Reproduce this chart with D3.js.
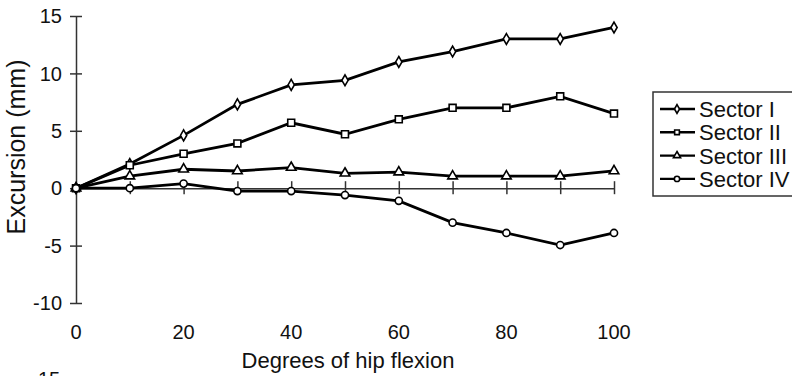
<!DOCTYPE html>
<meta charset="utf-8">
<title>Excursion vs hip flexion</title>
<style>
  body { margin: 0; background: #fff; }
  text { font-family: "Liberation Sans", Arial, sans-serif; fill: #111; }
  .series path.line { fill: none; stroke: #000; stroke-width: 2.8px; }
  .mark { fill: #fff; stroke: #000; stroke-width: 1.6px; }
  .axis path, .axis line { stroke: #333; stroke-width: 1.5px; }
</style>
<body>
<script src="https://cdn.jsdelivr.net/npm/d3@7"></script>
<script>

var degrees = [0, 10, 20, 30, 40, 50, 60, 70, 80, 90, 100];
var sectorI   = [0, 2.1, 4.6, 7.3, 9.0, 9.4, 11.0, 11.9, 13.0, 13.0, 14.0];
var sectorII  = [0, 2.0, 3.0, 3.9, 5.7, 4.7, 6.0, 7.0, 7.0, 8.0, 6.5];
var sectorIII = [0, 1.05, 1.65, 1.5, 1.8, 1.3, 1.4, 1.05, 1.05, 1.05, 1.5];
var sectorIV  = [0, 0, 0.4, -0.25, -0.25, -0.6, -1.1, -3.0, -3.9, -4.95, -3.9];
var seriesNames = ['Sector I', 'Sector II', 'Sector III', 'Sector IV'];
var xTicks = [0, 20, 40, 60, 80, 100];
var yTicks = [-10, -5, 0, 5, 10, 15];

var series = [
  {name: seriesNames[0], values: sectorI,   sym: d3.symbolDiamond,  size: 34},
  {name: seriesNames[1], values: sectorII,  sym: d3.symbolSquare,   size: 48},
  {name: seriesNames[2], values: sectorIII, sym: d3.symbolTriangle, size: 40},
  {name: seriesNames[3], values: sectorIV,  sym: d3.symbolCircle,   size: 40}
];

var svg = d3.select('body').append('svg').attr('width', 792).attr('height', 376)

var x = d3.scaleLinear().domain([0, 100]).range([76, 614]);
var y = d3.scaleLinear().domain([-10, 15]).range([303, 16]);

// y axis line with crossing ticks
var yAx = svg.append('g').attr('class', 'axis')
  .attr('transform', 'translate(' + x(0) + ',0)')
  .call(d3.axisLeft(y).tickValues(yTicks).tickSize(0).tickSizeOuter(0).tickFormat(''))
yAx.selectAll('.tick').append('line').attr('x1', -6).attr('x2', 6)

// y tick labels
svg.append('g').selectAll('text').data(yTicks)
  .enter().append('text')
  .attr('x', 62).attr('y', function(d) { return y(d); })
  .attr('dy', '0.36em')
  .attr('text-anchor', 'end')
  .style('font-size', '20px')
  .text(function(d) { return d; })

// x axis at zero with crossing ticks
var xAx = svg.append('g').attr('class', 'axis')
  .attr('transform', 'translate(0,' + y(0) + ')')
  .call(d3.axisBottom(x).tickValues(degrees.slice(1)).tickSize(0).tickSizeOuter(0).tickFormat(''))
xAx.selectAll('.tick').append('line').attr('y1', -7).attr('y2', 6)

// x tick labels at bottom
svg.append('g').selectAll('text').data(xTicks)
  .enter().append('text')
  .attr('x', function(d) { return x(d); })
  .attr('y', 339)
  .attr('text-anchor', 'middle')
  .style('font-size', '20px')
  .text(function(d) { return d; })

svg.append('text')
  .attr('x', 348).attr('y', 368)
  .attr('text-anchor', 'middle')
  .style('font-size', '22px')
  .text('Degrees of hip flexion')

svg.append('text')
  .attr('transform', 'translate(25,147) rotate(-90)')
  .attr('text-anchor', 'middle')
  .style('font-size', '25px')
  .text('Excursion (mm)')

// stray label from the figure below, cut by the bottom edge
svg.append('text')
  .attr('x', 38).attr('y', 386)
  .style('font-size', '20px')
  .text('15')

var line = d3.line()
  .x(function(d, i) { return x(degrees[i]); })
  .y(function(d) { return y(d); })

var g = svg.selectAll('g.series').data(series)
  .enter().append('g').attr('class', 'series')

g.append('path').attr('class', 'line')
  .attr('d', function(d) { return line(d.values); })

g.each(function(s) {
  d3.select(this).selectAll('path.mark').data(s.values)
    .enter().append('path').attr('class', 'mark')
    .attr('d', d3.symbol().type(s.sym).size(s.size))
    .attr('transform', function(d, i) { return 'translate(' + x(degrees[i]) + ',' + y(d) + ')'; })
})

// legend
var lg = svg.append('g').attr('transform', 'translate(653,92)')
lg.append('rect')
  .attr('width', 150).attr('height', 104)
  .attr('fill', '#fff').attr('stroke', '#333').attr('stroke-width', 1.5)

var item = lg.selectAll('g.item').data(series)
  .enter().append('g').attr('class', 'item')
  .attr('transform', function(d, i) { return 'translate(0,' + (17 + i * 23.3) + ')'; })

item.append('line')
  .attr('x1', 7).attr('x2', 42)
  .attr('stroke', '#000').attr('stroke-width', 2.4)
item.append('path').attr('class', 'mark')
  .attr('d', function(d) { return d3.symbol().type(d.sym).size(22)(); })
  .attr('transform', 'translate(24,0)')
item.append('text')
  .attr('x', 46).attr('dy', '0.36em')
  .style('font-size', '22px')
  .text(function(d) { return d.name; })

</script>
</body>
